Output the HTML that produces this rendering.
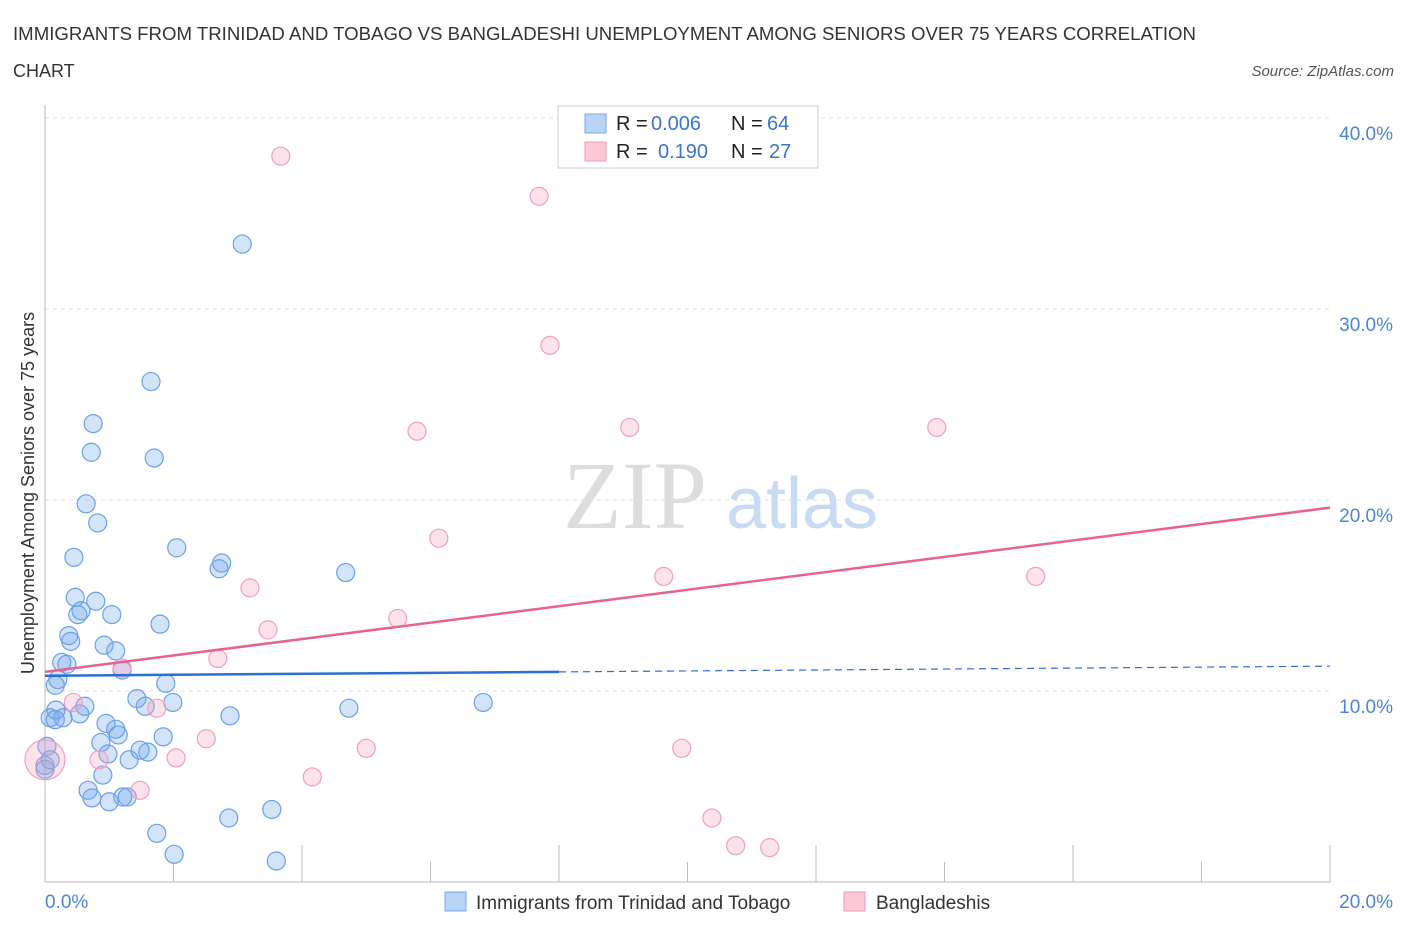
<!DOCTYPE html>
<html><head><meta charset="utf-8"><style>
body{margin:0;background:#fff;font-family:"Liberation Sans",sans-serif;}
</style></head><body>
<svg width="1406" height="930" xmlns="http://www.w3.org/2000/svg" font-family="Liberation Sans, sans-serif">
<text x="13" y="40" font-size="18" fill="#333" textLength="1183" lengthAdjust="spacingAndGlyphs">IMMIGRANTS FROM TRINIDAD AND TOBAGO VS BANGLADESHI UNEMPLOYMENT AMONG SENIORS OVER 75 YEARS CORRELATION</text>
<text x="13" y="77" font-size="18" fill="#333">CHART</text>
<text x="1394" y="76" font-size="15" fill="#555" font-style="italic" text-anchor="end">Source: ZipAtlas.com</text>
<g>
<text x="635" y="528" font-size="96" fill="#ddd" font-family="Liberation Serif, serif" text-anchor="middle">ZIP</text>
<text x="802" y="528" font-size="72" fill="#c9dbf3" text-anchor="middle">atlas</text>
</g>
<g id="grid"></g>
<g id="axes"></g>
<g id="points"></g>
<g id="trends"></g>
<g>
<rect x="558" y="106" width="260" height="62" fill="#fff" stroke="#ccc"/>
<rect x="585" y="114" width="21" height="19" fill="#b8d3f5" stroke="#7aaae6"/>
<rect x="585" y="142" width="21" height="19" fill="#fcc8d8" stroke="#ee9ab5"/>
<text x="616" y="130" font-size="20" fill="#222">R =</text>
<text x="651" y="130" font-size="20" fill="#3a75c8">0.006</text>
<text x="731" y="130" font-size="20" fill="#222">N =</text>
<text x="767" y="130" font-size="20" fill="#3a75c8">64</text>
<text x="616" y="158" font-size="20" fill="#222">R =</text>
<text x="658" y="158" font-size="20" fill="#3a75c8">0.190</text>
<text x="731" y="158" font-size="20" fill="#222">N =</text>
<text x="769" y="158" font-size="20" fill="#3a75c8">27</text>
</g>
<g>
<rect x="445" y="892" width="21" height="19" fill="#b8d3f5" stroke="#7aaae6"/>
<text x="476" y="909" font-size="19" fill="#333">Immigrants from Trinidad and Tobago</text>
<rect x="844" y="892" width="21" height="19" fill="#fcc8d8" stroke="#ee9ab5"/>
<text x="876" y="909" font-size="19" fill="#333">Bangladeshis</text>
</g>
<text transform="translate(34,493) rotate(-90)" font-size="18" fill="#333" text-anchor="middle">Unemployment Among Seniors over 75 years</text>
</svg>
<script>
const blueX=[3.07,1.65,0.75,0.72,1.70,0.64,0.82,2.05,0.45,2.75,2.71,4.68,0.47,0.79,0.56,1.04,0.51,1.79,0.37,0.40,0.92,1.10,0.26,0.34,1.20,0.20,1.88,0.16,6.82,1.43,1.99,1.56,4.73,0.62,0.17,2.88,0.54,0.08,0.28,0.16,0.95,1.10,1.14,1.84,0.87,1.48,1.60,0.98,1.31,0.03,0.0,0.90,0.67,0.73,1.21,1.28,1.00,3.53,2.86,1.74,2.01,3.60,0.0,0.08];
const blueY=[33.4,26.2,24.0,22.5,22.2,19.8,18.8,17.5,17.0,16.7,16.4,16.2,14.9,14.7,14.2,14.0,14.0,13.5,12.9,12.6,12.4,12.1,11.5,11.4,11.1,10.6,10.4,10.3,9.4,9.6,9.4,9.2,9.1,9.2,9.0,8.7,8.8,8.6,8.6,8.5,8.3,8.0,7.7,7.6,7.3,6.9,6.8,6.7,6.4,7.1,5.9,5.6,4.8,4.4,4.45,4.45,4.2,3.8,3.35,2.55,1.45,1.1,6.1,6.4];
const pinkX=[3.67,7.69,7.86,5.79,9.10,13.88,6.13,9.63,15.42,3.19,5.49,3.47,2.69,1.20,0.44,1.74,2.51,5.00,2.04,9.91,0.84,4.16,1.48,10.38,10.75,11.28,0.0];
const pinkY=[38.0,35.9,28.1,23.6,23.8,23.8,18.0,16.0,16.0,15.4,13.8,13.2,11.7,11.2,9.4,9.1,7.5,7.0,6.5,7.0,6.4,5.5,4.8,3.35,1.9,1.8,6.4];
const pinkR=[9,9,9,9,9,9,9,9,9,9,9,9,9,9,9,9,9,9,9,9,9,9,9,9,9,9,20];
const yTicks=[10,20,30,40];
const yTickLabels=["10.0%","20.0%","30.0%","40.0%"];
const xTickLabels=["0.0%","20.0%"];
const blueTrend=[10.8,11.3];
const pinkTrend=[11.0,19.6];
const NS="http://www.w3.org/2000/svg";
const X=v=>45+v/20*1285, Y=v=>882-v*19.1;
function mk(t,a,p){const e=document.createElementNS(NS,t);for(const k in a)e.setAttribute(k,a[k]);document.getElementById(p).appendChild(e);return e;}
yTicks.forEach((t,i)=>{
 const g=mk('line',{x1:45,x2:1330,y1:Y(t),y2:Y(t),stroke:'#ddd','stroke-dasharray':'4,4'},'grid');
 
 
 const l=mk('text',{x:1393,y:Y(t)+22,'font-size':19,fill:'#4a85d8','text-anchor':'end'},'grid');
 l.textContent=yTickLabels[i];
 
 
});
const ax=mk('line',{x1:45,x2:45,y1:105,y2:882,stroke:'#bbb'},'axes');


const bx=mk('line',{x1:45,x2:1330,y1:882,y2:882,stroke:'#bbb'},'axes');


for(let i=1;i<=10;i++){
 const tk=mk('line',{x1:X(i*2),x2:X(i*2),y1:(i%2==0?845:862),y2:882,stroke:'#bbb'},'axes');
 
 
}
const xl0=mk('text',{x:45,y:908,'font-size':19,fill:'#4a85d8'},'axes');xl0.textContent=xTickLabels[0];


const xl1=mk('text',{x:1393,y:908,'font-size':19,fill:'#4a85d8','text-anchor':'end'},'axes');xl1.textContent=xTickLabels[1];


blueX.forEach((v,i)=>{
 const c=mk('circle',{cx:X(v),cy:Y(blueY[i]),r:9,fill:'rgba(110,165,235,0.3)',stroke:'#6aa0e4','stroke-width':1.2},'points');
 
 
});
pinkX.forEach((v,i)=>{
 const c=mk('circle',{cx:X(v),cy:Y(pinkY[i]),r:pinkR[i],fill:'rgba(245,160,190,0.3)',stroke:'#f0a0ba','stroke-width':1.2},'points');
 
 
});
const bs=blueTrend[0],be=blueTrend[1],mid=8;
const b1=mk('line',{x1:X(0),y1:Y(bs),x2:X(mid),y2:Y(bs+(be-bs)*mid/20),stroke:'#2b6fd0','stroke-width':2.5},'trends');


const b2=mk('line',{x1:X(mid),y1:Y(bs+(be-bs)*mid/20),x2:X(20),y2:Y(be),stroke:'#2b6fd0','stroke-width':1.2,'stroke-dasharray':'7,5'},'trends');


const p1=mk('line',{x1:X(0),y1:Y(pinkTrend[0]),x2:X(20),y2:Y(pinkTrend[1]),stroke:'#e8628e','stroke-width':2.5},'trends');


</script>
</body></html>
